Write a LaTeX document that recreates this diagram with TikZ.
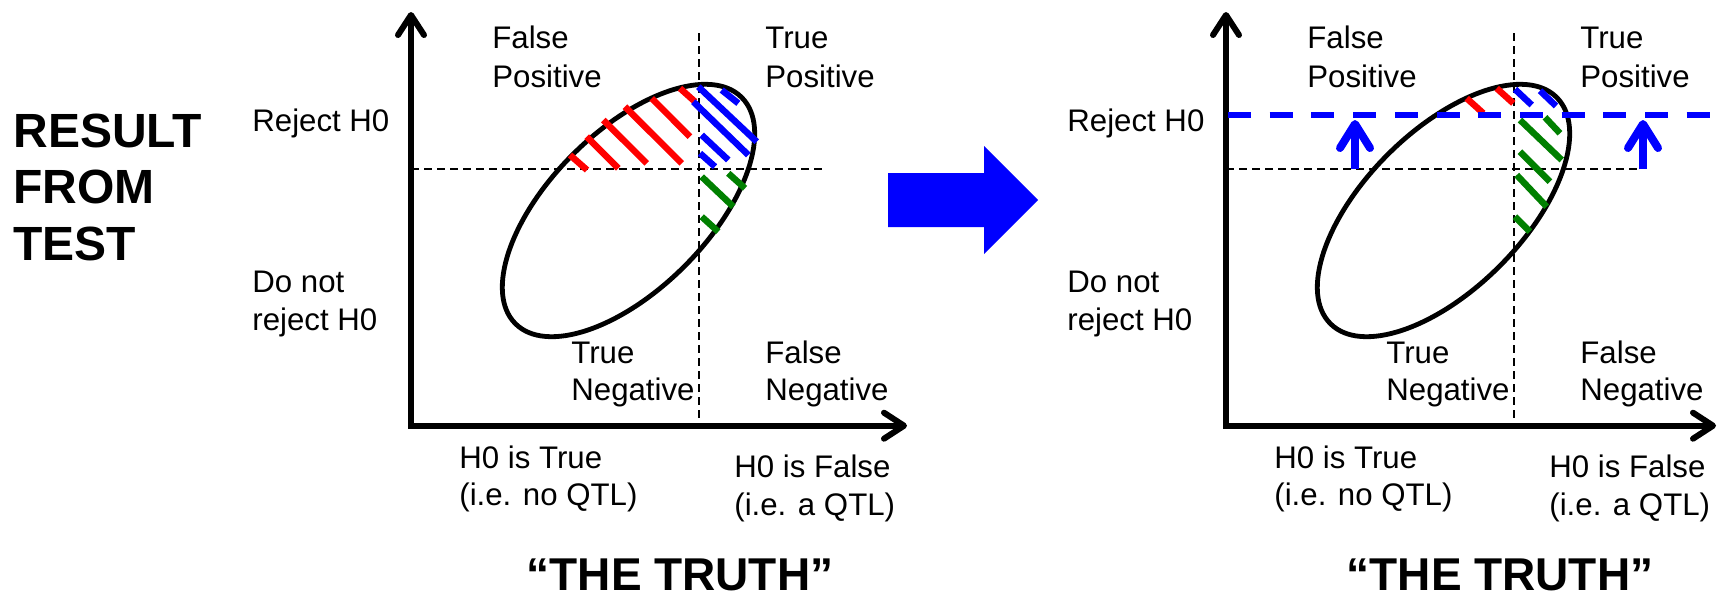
\documentclass[tikz,border=0pt]{standalone}
\usepackage{fontspec}
\setmainfont{Liberation Sans}
\usetikzlibrary{arrows.meta}
\definecolor{hblue}{RGB}{0,0,255}
\definecolor{hred}{RGB}{255,0,0}
\definecolor{hgreen}{RGB}{0,128,0}
\tikzset{
  axisline/.style={line width=3pt, line join=miter,
    {Straight Barb[round,length=10pt,width=13pt]}-{Straight Barb[round,length=10pt,width=13pt]}},
  thindash/.style={line width=1pt, dash pattern=on 4pt off 2.5pt},
  ellline/.style={line width=2.4pt},
  lbl/.style={font=\fontsize{15.6}{18}\selectfont, anchor=base west, inner sep=0pt},
  biglbl/.style={font=\bfseries\fontsize{24}{28}\selectfont, anchor=base west, inner sep=0pt},
  truthlbl/.style={font=\bfseries\fontsize{23}{28}\selectfont, anchor=base, inner sep=0pt},
  hatch/.style={line width=3.25pt},
  bluedash/.style={draw=hblue, line width=3.25pt, dash pattern=on 11.5pt off 9.35pt},
  bluearrow/.style={draw=hblue, line width=4pt, -{Straight Barb[round,length=12pt,width=15pt]}},
}
\newcommand\quadpanel[4]{%
  \begin{scope}[shift={(#2,0)}]
    \coordinate (#1yt) at (411,12);
    \coordinate (#1o) at (411,425.7);
    \coordinate (#1xt) at (#3,425.7);
    \coordinate (#1vt) at (699,33);
    \coordinate (#1vb) at (699,418);
    \coordinate (#1hl) at (411,169.3);
    \coordinate (#1hr) at (826,169.3);
    \coordinate (#1ec) at (628.5,210.5);
    \draw[thindash] (#1vt) -- (#1vb);
    \draw[thindash] (#1hl) -- (#1hr);
    \draw[ellline, rotate around={45:(#1ec)}] (#1ec) ellipse [x radius=160, y radius=79];
    \draw[axisline] (#1yt) -- (#1o) -- (#1xt);
    \node[lbl] (#1rej) at (252,131) {Reject H0};
    \node[lbl] (#1dn1) at (252,292) {Do not};
    \node[lbl] (#1dn2) at (252,330) {reject H0};
    \node[lbl] (#1fp1) at (492,48) {False};
    \node[lbl] (#1fp2) at (492,87) {Positive};
    \node[lbl] (#1tp1) at (765,48) {True};
    \node[lbl] (#1tp2) at (765,87) {Positive};
    \node[lbl] (#1tn1) at (571,363) {True};
    \node[lbl] (#1tn2) at (571,400.7) {Negative};
    \node[lbl] (#1fn1) at (765,363) {False};
    \node[lbl] (#1fn2) at (765,400.7) {Negative};
    \node[lbl] (#1ht1) at (459,468) {H0 is True};
    \node[lbl] (#1ht2) at (459,505) {(i.e. no QTL)};
    \node[lbl] (#1hf1) at (734,477) {H0 is False};
    \node[lbl] (#1hf2) at (734,515) {(i.e. a QTL)};
    \node[truthlbl] (#1truth) at (#4,590) {“THE TRUTH”};
  \end{scope}}
\begin{document}
\begin{tikzpicture}[x=0.5pt,y=-0.5pt]
\useasboundingbox (0,0) rectangle (1718,596);
\fill[white] (0,0) rectangle (1718,596);

% left panel
\quadpanel{L}{0}{907}{680}
\node[biglbl] (res1) at (13,147) {RESULT};
\node[biglbl] (res2) at (13,203) {FROM};
\node[biglbl] (res3) at (13,260) {TEST};
\begin{scope}[hatch, hred]
  \draw (570,155) -- (587,170);
  \draw (586.7,136.7) -- (618.3,168.3);
  \draw (603.3,120) -- (646.7,163.3);
  \draw (625,106.7) -- (681.7,163.3);
  \draw (651.7,98.3) -- (690,136.7);
  \draw (680,88.3) -- (695,101.7);
\end{scope}
\begin{scope}[hatch, hblue]
  \draw (721.7,90) -- (738.3,103.3);
  \draw (698.3,86.7) -- (756.7,141.7);
  \draw (693.3,101.7) -- (748.3,155);
  \draw (701.7,135) -- (728.3,160);
  \draw (700,153.3) -- (715,166.7);
\end{scope}
\begin{scope}[hatch, hgreen]
  \draw (728.3,173.3) -- (745,188.3);
  \draw (701.7,176.7) -- (733.3,206.7);
  \draw (701.7,216.7) -- (718.3,231.7);
\end{scope}

% big arrow
\fill[hblue] (888,173) -- (984,173) -- (984,146) -- (1038,200) -- (984,254) -- (984,227) -- (888,227) -- cycle;

% right panel
\quadpanel{R}{815}{901}{685}
\begin{scope}[hatch, hred]
  \draw (1466.7,98.3) -- (1483.3,113.3);
  \draw (1496.7,88.3) -- (1513.3,103.3);
\end{scope}
\begin{scope}[hatch, hblue]
  \draw (1515,89.3) -- (1531.7,105);
  \draw (1540,90.7) -- (1556,106);
\end{scope}
\begin{scope}[hatch, hgreen]
  \draw (1545,117.3) -- (1560,133.3);
  \draw (1520,120) -- (1561.7,160);
  \draw (1520,151.7) -- (1550,181.7);
  \draw (1516.7,175) -- (1546.7,206.7);
  \draw (1515,216.7) -- (1530,231.7);
\end{scope}
\coordinate (Rbl) at (1228,115);
\coordinate (Rbr) at (1718,115);
\draw[bluedash] (Rbl) -- (Rbr);
\coordinate (Rab1) at (1355,169);
\coordinate (Rat1) at (1355,120);
\coordinate (Rab2) at (1643,169);
\coordinate (Rat2) at (1643,120);
\draw[bluearrow] (Rab1) -- (Rat1);
\draw[bluearrow] (Rab2) -- (Rat2);
\end{tikzpicture}
\end{document}
